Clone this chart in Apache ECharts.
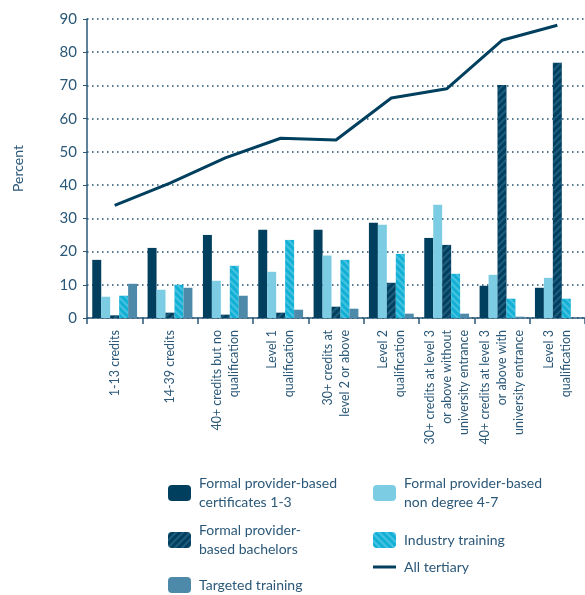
<!DOCTYPE html>
<html>
<head>
<meta charset="utf-8">
<script src="https://cdn.jsdelivr.net/npm/echarts@6/dist/echarts.min.js"></script>
<style>
  html, body { margin: 0; padding: 0; background: #fff; }
  #chart { width: 585px; height: 595px; }
</style>
</head>
<body>
<div id="chart"></div>
<script>
// Highest tertiary study by type of provider, percent
const categories = [
  '1-13 credits',
  '14-39 credits',
  '40+ credits but no\nqualification',
  'Level 1\nqualification',
  '30+ credits at\nlevel 2 or above',
  'Level 2\nqualification',
  '30+ credits at level 3\nor above without\nuniversity entrance',
  '40+ credits at level 3\nor above with\nuniversity entrance',
  'Level 3\nqualification'
];
const certificates = [17.5, 21.1, 25.0, 26.6, 26.6, 28.7, 24.1, 9.7, 9.1];
const nonDegree    = [6.4, 8.5, 11.2, 13.9, 18.8, 28.1, 34.1, 13.0, 12.1];
const bachelors    = [0.8, 1.6, 1.0, 1.6, 3.4, 10.6, 22.0, 70.1, 76.8];
const industry     = [6.7, 10.0, 15.7, 23.5, 17.5, 19.3, 13.3, 5.8, 5.8];
const targeted     = [10.3, 9.1, 6.7, 2.5, 2.8, 1.3, 1.3, 0.4, 0];
const allTertiary  = [33.9, 40.6, 48.2, 54.1, 53.6, 66.2, 69.0, 83.6, 88.1];
const yTicks = { min: 0, max: 90, interval: 10 };

const NAVY = '#003f5e';
const LIGHT = '#7ccde3';
const CYAN = '#12b0d5';
const STEEL = '#4d8aaa';
const TEXT = '#2b5878';
const FONT = 'Lato, "Open Sans", sans-serif';

const names = {
  cert: 'Formal provider-based certificates 1-3',
  nondeg: 'Formal provider-based non degree 4-7',
  bach: 'Formal provider-based bachelors',
  ind: 'Industry training',
  targ: 'Targeted training',
  all: 'All tertiary'
};
const legendText = {
  [names.cert]: 'Formal provider-based\ncertificates 1-3',
  [names.nondeg]: 'Formal provider-based\nnon degree 4-7',
  [names.bach]: 'Formal provider-\nbased bachelors',
  [names.ind]: 'Industry training',
  [names.targ]: 'Targeted training',
  [names.all]: 'All tertiary'
};

const LEGEND_LINE = 19;

// Place a legend entry so that its swatch starts at (left, iconTop);
// two-line labels hang down from the swatch's centre line.
function legendItem(name, left, iconTop, opts) {
  opts = opts || {};
  const lines = legendText[name].split('\n').length;
  const itemHeight = opts.itemHeight || 16;
  const padTop = lines > 1 ? LEGEND_LINE * (lines - 1) : 0;
  const boxH = LEGEND_LINE * lines + padTop;
  const above = Math.max(0, boxH / 2 - itemHeight / 2);
  return {
    data: [opts.icon ? { name: name, icon: opts.icon } : name],
    left: left,
    top: iconTop - above,
    padding: 0,
    itemWidth: 23,
    itemHeight: itemHeight,
    selectedMode: false,
    formatter: n => legendText[n],
    textStyle: {
      fontFamily: FONT,
      fontSize: 14,
      color: TEXT,
      lineHeight: LEGEND_LINE,
      padding: [padTop, 0, 0, 3]
    }
  };
}

const stripe = (color, rot) => ({
  symbol: 'rect',
  symbolSize: 1,
  color: color,
  dashArrayX: [1, 0],
  dashArrayY: [2, 3],
  rotation: rot
});

const barBase = { type: 'bar', barGap: 0, barCategoryGap: '19%' };

const chart = echarts.init(document.getElementById('chart'), null, { renderer: 'canvas' });
chart.setOption({
  animation: false,
  aria: { enabled: false },
  grid: { left: 87, right: 0, top: 19, bottom: 277, containLabel: false },
  legend: [
    legendItem(names.cert, 168, 485),
    legendItem(names.nondeg, 373, 485),
    legendItem(names.bach, 168, 532),
    legendItem(names.ind, 373, 532),
    legendItem(names.targ, 168, 577),
    legendItem(names.all, 373, 565.5, { itemHeight: 3, icon: 'rect' })
  ],
  xAxis: {
    type: 'category',
    data: categories,
    boundaryGap: true,
    axisLine: { lineStyle: { color: TEXT, width: 1.5 } },
    axisTick: { show: true, length: 6, lineStyle: { color: TEXT, width: 1.5 } },
    axisLabel: {
      rotate: 90,
      interval: 0,
      margin: 12,
      fontFamily: FONT,
      fontSize: 12.5,
      color: TEXT,
      lineHeight: 17
    },
    splitLine: { show: false }
  },
  yAxis: {
    type: 'value',
    min: yTicks.min,
    max: yTicks.max,
    interval: yTicks.interval,
    name: 'Percent',
    nameLocation: 'middle',
    nameRotate: 90,
    nameGap: 62,
    nameTextStyle: { fontFamily: FONT, fontSize: 14, color: TEXT },
    axisLine: { show: true, lineStyle: { color: TEXT, width: 1.5 } },
    axisTick: { show: true, length: 4, lineStyle: { color: TEXT, width: 1 } },
    axisLabel: { fontFamily: FONT, fontSize: 15, color: TEXT, margin: 10 },
    splitLine: { show: true, lineStyle: { color: '#1d4d6c', width: 1.5, type: [1.5, 3.5] } }
  },
  series: [
    Object.assign({}, barBase, {
      name: names.cert, data: certificates,
      itemStyle: { color: NAVY }
    }),
    Object.assign({}, barBase, {
      name: names.nondeg, data: nonDegree,
      itemStyle: { color: LIGHT }
    }),
    Object.assign({}, barBase, {
      name: names.bach, data: bachelors,
      itemStyle: { color: NAVY, decal: stripe('rgba(90,150,185,0.35)', -Math.PI / 4) }
    }),
    Object.assign({}, barBase, {
      name: names.ind, data: industry,
      itemStyle: { color: CYAN, decal: stripe('rgba(170,230,245,0.35)', Math.PI / 4) }
    }),
    Object.assign({}, barBase, {
      name: names.targ, data: targeted,
      itemStyle: { color: STEEL }
    }),
    {
      type: 'line',
      name: names.all,
      data: allTertiary,
      symbol: 'none',
      lineStyle: { color: NAVY, width: 3 },
      itemStyle: { color: NAVY },
      z: 5
    }
  ]
});
</script>
</body>
</html>
